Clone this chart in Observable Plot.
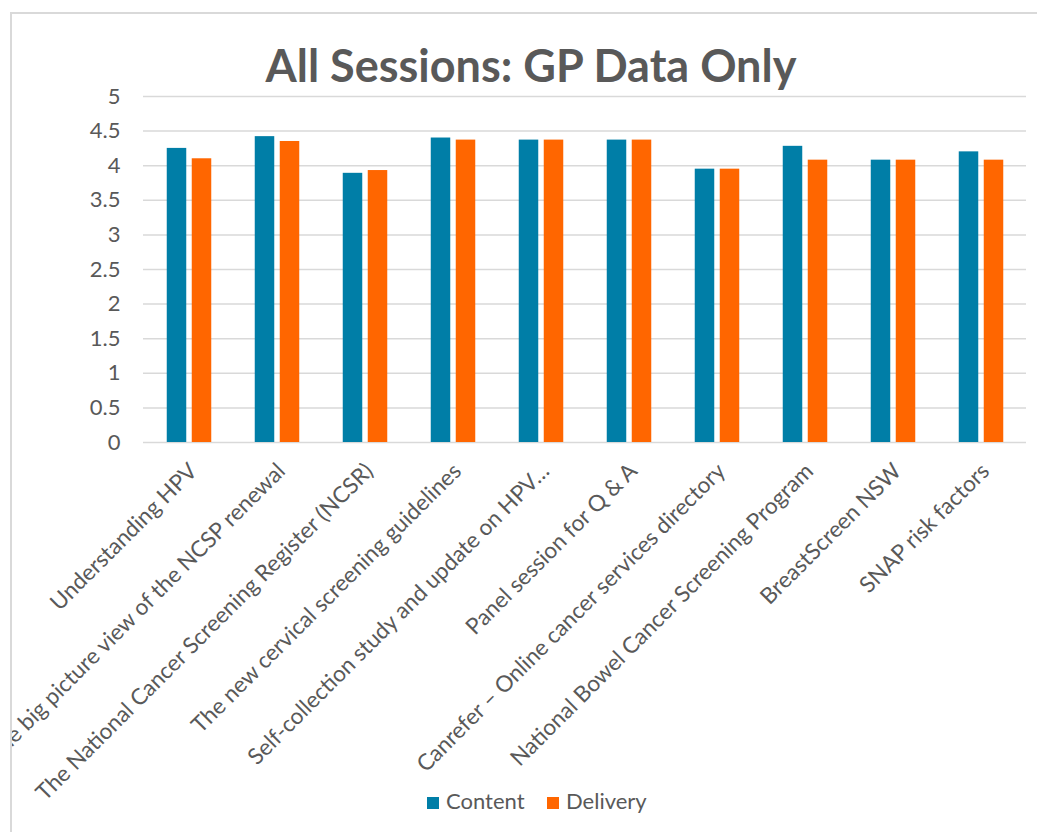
<!DOCTYPE html>
<html>
<head>
<meta charset="utf-8">
<script src="https://cdn.jsdelivr.net/npm/d3@7"></script>
<script src="https://cdn.jsdelivr.net/npm/@observablehq/plot@0.6"></script>
<style>
  html, body { margin: 0; padding: 0; background: #fff; }
  body { width: 1037px; height: 832px; position: relative; overflow: hidden; font-family: Lato, "Open Sans", sans-serif; }
  #frame { position: absolute; left: 10px; top: 12px; width: 1027px; height: 820px; border-left: 2px solid #d9d9d9; border-top: 2px solid #d9d9d9; box-sizing: border-box; overflow: hidden; }
  #title { position: absolute; left: -12px; width: 1062px; top: 26px; text-align: center; font-weight: 700; font-size: 45px; line-height: 50px; color: #595959; }
  #chart { position: absolute; left: -12px; top: 46px; }
  #legend { position: absolute; left: 0; top: 774px; font-size: 22px; color: #595959; }
  .item { position: absolute; white-space: nowrap; line-height: 26px; }
  .sw { display: inline-block; width: 12px; height: 12px; margin-right: 7px; vertical-align: 0px; }
</style>
</head>
<body>
<div id="frame">
  <div id="title"></div>
  <div id="chart"></div>
  <div id="legend"></div>
</div>
<script>
const titleText = "All Sessions: GP Data Only";
const categories = [
  "Understanding HPV",
  "The big picture view of the NCSP renewal",
  "The National Cancer Screening Register (NCSR)",
  "The new cervical screening guidelines",
  "Self-collection study and update on HPV…",
  "Panel session for Q & A",
  "Canrefer – Online cancer services directory",
  "National Bowel Cancer Screening Program",
  "BreastScreen NSW",
  "SNAP risk factors"
];
const contentValues  = [4.25, 4.42, 3.89, 4.40, 4.37, 4.37, 3.95, 4.28, 4.08, 4.20];
const deliveryValues = [4.10, 4.35, 3.93, 4.37, 4.37, 4.37, 3.95, 4.08, 4.08, 4.08];
const seriesNames = ["Content", "Delivery"];
const seriesColors = ["#007EA7", "#FF6600"];
const yTicks = [0, 0.5, 1, 1.5, 2, 2.5, 3, 3.5, 4, 4.5, 5];

const rows = categories.map((c, i) => ({category: c, content: contentValues[i], delivery: deliveryValues[i]}));

document.getElementById("title").textContent = titleText;

const chart = Plot.plot({
  width: 1037,
  height: 770,
  marginTop: 36,
  marginBottom: 388,
  marginLeft: 143,
  marginRight: 11,
  style: {fontFamily: "Lato, 'Open Sans', sans-serif", color: "#595959", background: "transparent", overflow: "visible"},
  x: {domain: categories, padding: 0, label: null},
  y: {domain: [0, 5], label: null},
  marks: [
    Plot.gridY(yTicks, {stroke: "#d9d9d9", strokeOpacity: 1, strokeWidth: 1.5}),
    Plot.barY(rows, {x: "category", y: "content", fill: seriesColors[0], insetLeft: 21.75, insetRight: 46.75}),
    Plot.barY(rows, {x: "category", y: "delivery", fill: seriesColors[1], insetLeft: 46.75, insetRight: 21.75}),
    Plot.axisY({ticks: yTicks, tickSize: 0, tickPadding: 23, fontSize: 22, tickFormat: d => String(d), label: null}),
    Plot.axisX({tickSize: 0, tickRotate: -45, tickPadding: 25, dx: 4, fontSize: 22.5, label: null})
  ]
});
document.getElementById("chart").appendChild(chart);

const legend = document.getElementById("legend");
const legendX = [415, 535];
seriesNames.forEach((name, i) => {
  const item = document.createElement("div");
  item.className = "item";
  item.style.left = legendX[i] + "px";
  const sw = document.createElement("span");
  sw.className = "sw";
  sw.style.background = seriesColors[i];
  item.appendChild(sw);
  item.appendChild(document.createTextNode(name));
  legend.appendChild(item);
});
</script>
</body>
</html>
